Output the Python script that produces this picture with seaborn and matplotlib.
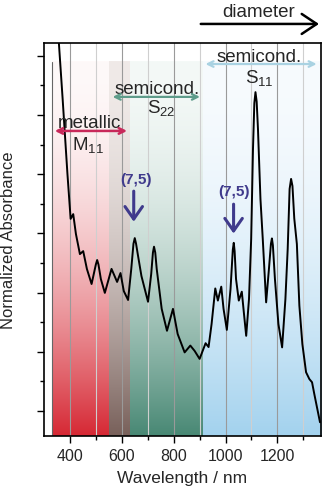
import numpy as np
import pandas as pd
import matplotlib
matplotlib.use("Agg")
import matplotlib.pyplot as plt
import seaborn as sns

# ---- data ----
wavelength = [353.8, 371.9, 390.4, 402.7, 412.7, 423.1, 438.5, 451.2, 465.4, 483.5,
              500.0, 505.0, 510.0, 519.2, 534.6, 560.4, 581.9, 595.0, 607.7, 624.2,
              636.5, 645.0, 650.0, 655.0, 661.5, 675.7, 701.1, 713.4, 720.0, 724.2,
              729.0, 734.6, 753.8, 774.2, 797.3, 815.4,
              842.3, 864.2, 880.8, 900.0, 923.1, 934.6, 946.2, 960.4, 970.4, 983.5,
              992.3, 1005.0, 1019.2, 1028.0, 1031.7, 1035.0, 1040.4, 1051.1, 1062.7, 1071.1,
              1079.6, 1090.4, 1098.8, 1105.8, 1111.0, 1115.4, 1120.0, 1125.0, 1134.6, 1143.5,
              1156.5, 1167.3, 1175.0, 1178.8, 1182.5, 1190.4,
              1203.8, 1218.1, 1230.8, 1239.6, 1247.0, 1252.7, 1258.0, 1265.0, 1275.0, 1284.6,
              1296.2, 1310.4, 1323.1, 1333.5, 1342.3, 1353.8, 1364.2]
absorbance = [1.290, 1.054, 0.801, 0.649, 0.665, 0.598, 0.530, 0.540, 0.480, 0.429,
              0.495, 0.510, 0.495, 0.446, 0.399, 0.480, 0.436, 0.466, 0.405, 0.375,
              0.480, 0.565, 0.584, 0.565, 0.530, 0.456, 0.369, 0.463, 0.535, 0.555,
              0.535, 0.480, 0.345, 0.271, 0.345, 0.260,
              0.198, 0.221, 0.203, 0.176, 0.229, 0.216, 0.294, 0.414, 0.373, 0.420,
              0.345, 0.274, 0.412, 0.545, 0.568, 0.540, 0.446, 0.373, 0.403, 0.328,
              0.254, 0.378, 0.581, 0.885, 1.040, 1.077, 1.045, 0.953, 0.716, 0.581,
              0.367, 0.480, 0.565, 0.583, 0.560, 0.446,
              0.294, 0.215, 0.378, 0.547, 0.750, 0.784, 0.760, 0.650, 0.564, 0.356,
              0.226, 0.131, 0.108, 0.097, 0.057, 0.007, -0.038]

region_names = ["metallic", "overlap", "semicond. S22", "semicond. S11"]
region_start = [331, 550, 630, 912]
region_end = [550, 630, 912, 1370]

x_ticks = [400, 600, 800, 1000, 1200]
x_tick_labels = ["400", "600", "800", "1000", "1200"]

df = pd.DataFrame({"Wavelength": wavelength, "Absorbance": absorbance})

# ---- style ----
sns.set_style("ticks")
plt.rcParams["font.family"] = ["Liberation Sans", "DejaVu Sans"]
plt.rcParams["mathtext.fontset"] = "custom"
plt.rcParams["mathtext.rm"] = "Liberation Sans"
plt.rcParams["mathtext.it"] = "Liberation Sans"

fig = plt.figure(figsize=(3.30, 4.89), dpi=100)
ax = fig.add_axes([0.1333, 0.1063, 0.8394, 0.8037])

xmin, xmax = 300, 1368
ymin, ymax = -0.0845, 1.243
region_top = 1.179

bottom_cols = [(214, 40, 52), (120, 96, 90), (72, 136, 116), (163, 210, 238)]
top_cols = [(254, 249, 249), (240, 234, 232), (244, 249, 247), (247, 251, 254)]

n = 256
t = np.linspace(0, 1, n)[:, None]  # 0 at top row, 1 at bottom row
for x0, x1, cb, ct in zip(region_start, region_end, bottom_cols, top_cols):
    cb = np.array(cb) / 255.0
    ct = np.array(ct) / 255.0
    w = t ** 1.9
    rgb = ct[None, :] + (cb - ct)[None, :] * w
    img = np.concatenate([rgb, np.ones((n, 1))], axis=1)[:, None, :]
    ax.imshow(img, extent=[x0, min(x1, xmax), ymin, region_top], aspect="auto",
              zorder=0, interpolation="bilinear")

# vertical grid lines
for g in range(400, 1400, 100):
    col = "#9a9a9a" if g % 200 == 0 else "#cfcfcf"
    ax.axvline(g, color=col, lw=0.8, zorder=1)
ax.plot([331, 331], [ymin, region_top], color="#666666", lw=0.8, zorder=1)

sns.lineplot(data=df, x="Wavelength", y="Absorbance", color="black", lw=1.4,
             ax=ax, zorder=3, solid_joinstyle="round")

ax.set_xlim(xmin, xmax)
ax.set_ylim(ymin, ymax)
ax.set_xticks(x_ticks)
ax.set_xticklabels(x_tick_labels, fontsize=11.5)
ax.set_xticks(range(500, 1400, 200), minor=True)
ax.set_yticks(np.arange(0, 1.21, 0.2))
ax.set_yticks(np.arange(0.1, 1.21, 0.2), minor=True)
ax.set_yticklabels([])
ax.tick_params(axis="both", which="major", direction="out", length=5, width=1, color="black")
ax.tick_params(axis="both", which="minor", direction="out", length=3, width=1, color="black")
for s in ax.spines.values():
    s.set_linewidth(1.2)
    s.set_color("black")

ax.set_xlabel("Wavelength / nm", fontsize=12.5, labelpad=5)
ax.set_ylabel("Normalized Absorbance", fontsize=12, labelpad=12)

# region labels and double arrows
fs = 13.5
ax.text(477, 0.976, "metallic", ha="center", va="center", fontsize=fs, zorder=5)
ax.text(469, 0.902, r"M$_{11}$", ha="center", va="center", fontsize=fs, zorder=5)
ax.annotate("", xy=(331, 0.946), xytext=(631, 0.946),
            arrowprops=dict(arrowstyle="<->", color="#c8285a", lw=1.8, mutation_scale=10), zorder=5)

ax.text(737, 1.088, "semicond.", ha="center", va="center", fontsize=fs, zorder=5)
ax.text(752, 1.027, r"S$_{22}$", ha="center", va="center", fontsize=fs, zorder=5)
ax.annotate("", xy=(554, 1.061), xytext=(912, 1.061),
            arrowprops=dict(arrowstyle="<->", color="#5e9c8a", lw=1.6, mutation_scale=10), zorder=5)

ax.text(1131, 1.196, "semicond.", ha="center", va="center", fontsize=fs, zorder=5)
ax.text(1131, 1.128, r"S$_{11}$", ha="center", va="center", fontsize=fs, zorder=5)
ax.annotate("", xy=(912, 1.172), xytext=(1362, 1.172),
            arrowprops=dict(arrowstyle="<->", color="#a9d2e2", lw=1.6, mutation_scale=10), zorder=5)

# (7,5) markers
pc = "#3f3a8c"
ax.text(654, 0.784, "(7,5)", ha="center", va="center", fontsize=11, color=pc,
        fontweight="bold", zorder=5)
ax.annotate("", xy=(646, 0.630), xytext=(646, 0.752),
            arrowprops=dict(arrowstyle="->,head_width=0.35,head_length=0.5", color=pc,
                            lw=2.2, mutation_scale=18), zorder=5)
ax.text(1031, 0.743, "(7,5)", ha="center", va="center", fontsize=11, color=pc,
        fontweight="bold", zorder=5)
ax.annotate("", xy=(1031, 0.590), xytext=(1031, 0.708),
            arrowprops=dict(arrowstyle="->,head_width=0.35,head_length=0.5", color=pc,
                            lw=2.2, mutation_scale=18), zorder=5)

# diameter arrow
fig.text(0.785, 0.974, "diameter", ha="center", va="center", fontsize=13.5)
fig.add_artist(matplotlib.patches.FancyArrowPatch((0.60, 0.949), (0.975, 0.949),
               transform=fig.transFigure, arrowstyle="->,head_width=0.4,head_length=0.6",
               mutation_scale=18, lw=1.8, color="black"))

fig.savefig("out.png", dpi=100)
